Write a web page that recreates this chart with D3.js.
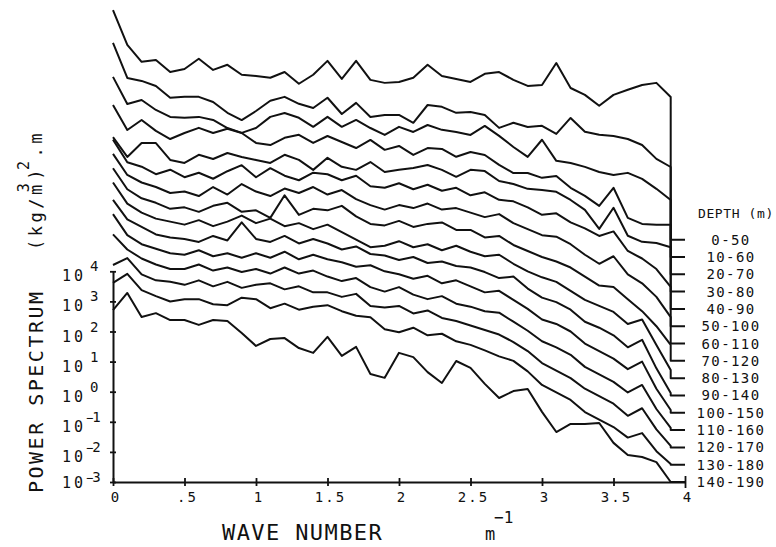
<!DOCTYPE html>
<html>
<head>
<meta charset="utf-8">
<script src="https://cdn.jsdelivr.net/npm/d3@7/dist/d3.min.js"></script>
<style>
  body { margin: 0; background: #fff; }
  text { font-family: "DejaVu Sans Mono", monospace; fill: #111; }
</style>
</head>
<body>
<div id="chart"></div>
<script>
// VARIABLES
var width = 776;
var height = 547;

// wave number (1/m) of every spectral estimate
var waveNumber = [0, 0.1, 0.2, 0.3, 0.4, 0.5, 0.6, 0.7, 0.8, 0.9,
                  1.0, 1.1, 1.2, 1.3, 1.4, 1.5, 1.6, 1.7, 1.8, 1.9,
                  2.0, 2.1, 2.2, 2.3, 2.4, 2.5, 2.6, 2.7, 2.8, 2.9,
                  3.0, 3.1, 3.2, 3.3, 3.4, 3.5, 3.6, 3.7, 3.8, 3.9];

// log10 of the power spectrum, one array per depth window
var spec0_50 = [4.63, 3.47, 2.91, 2.97, 2.57, 2.67, 3.01, 2.64, 2.81, 2.48, 2.44, 2.38, 2.57, 2.18, 2.48, 2.94, 2.34, 2.94, 2.31, 2.21, 2.24, 2.38, 2.81, 2.44, 2.34, 2.24, 2.51, 2.57, 2.31, 2.11, 2.14, 2.87, 2.04, 1.81, 1.45, 1.81, 1.98, 2.14, 2.21, 1.74];
var spec10_60 = [4.11, 2.95, 2.85, 2.68, 2.29, 2.32, 2.32, 2.15, 1.79, 1.55, 1.85, 2.19, 2.32, 2.09, 1.95, 2.29, 1.75, 2.12, 1.65, 1.72, 1.72, 1.46, 2.05, 1.99, 1.79, 1.82, 1.72, 1.29, 1.46, 1.32, 1.36, 1.09, 1.62, 1.16, 1.06, 1.02, 0.92, 0.72, 0.26, -0.01];
var spec20_70 = [3.56, 2.66, 2.79, 2.46, 2.23, 2.20, 2.23, 2.13, 1.86, 1.70, 1.86, 2.23, 2.36, 2.20, 1.90, 2.23, 1.90, 2.13, 1.86, 1.63, 1.90, 1.73, 1.96, 1.80, 1.73, 1.63, 1.93, 1.60, 1.23, 0.90, 1.47, 0.77, 0.70, 0.57, 0.40, 0.30, 0.37, 0.17, -0.16, -0.53];
var spec30_80 = [3.20, 2.37, 2.70, 2.34, 2.07, 2.27, 2.44, 2.27, 2.41, 2.27, 1.94, 1.87, 2.11, 2.21, 1.94, 2.17, 1.97, 1.77, 2.04, 1.71, 1.84, 1.54, 1.77, 1.74, 1.48, 1.64, 1.54, 1.21, 0.94, 0.94, 0.78, 0.84, 0.45, 0.18, -0.15, 0.45, -0.55, -0.75, -0.78, -0.78];
var spec40_90 = [2.71, 2.05, 2.51, 2.51, 1.95, 1.85, 2.12, 1.98, 2.18, 2.05, 1.95, 1.85, 2.12, 1.95, 1.62, 2.02, 1.72, 1.62, 1.88, 1.55, 1.62, 1.68, 1.78, 1.62, 1.39, 1.62, 1.58, 1.25, 1.15, 0.99, 0.95, 0.89, 0.62, 0.29, -0.34, 0.36, -0.57, -0.77, -0.81, -0.95];
var spec50_100 = [3.2, 2.45, 2.30, 2.05, 2.20, 1.95, 2.10, 1.90, 2.15, 2.35, 1.95, 2.25, 2.0, 1.85, 2.1, 2.05, 1.85, 2.0, 1.65, 1.6, 1.75, 1.55, 1.7, 1.5, 1.6, 1.35, 1.45, 1.2, 1.15, 0.95, 0.70, 0.75, 0.45, 0.25, 0.0, 0.15, -0.5, -0.75, -1.1, -1.69];
var spec60_110 = [3.3, 2.6, 2.35, 2.2, 2.0, 2.05, 1.9, 2.2, 1.95, 2.3, 2.05, 1.9, 2.15, 2.0, 2.2, 1.95, 2.1, 1.8, 1.6, 1.45, 1.6, 1.5, 1.65, 1.45, 1.5, 1.35, 1.2, 1.3, 1.0, 0.8, 0.6, 0.55, 0.3, -0.05, -0.35, -0.1, -0.7, -1.0, -1.45, -2.12];
var spec70_120 = [3.4, 2.7, 2.4, 2.25, 2.05, 2.1, 1.95, 2.15, 2.25, 1.95, 2.0, 1.75, 2.5, 1.85, 2.05, 2.0, 2.15, 1.8, 1.55, 1.5, 1.65, 1.45, 1.55, 1.6, 1.35, 1.35, 1.1, 1.15, 0.85, 0.65, 0.45, 0.3, 0.1, -0.2, -0.5, -0.55, -0.95, -1.35, -1.85, -2.47];
var spec80_130 = [3.5, 2.8, 2.5, 2.3, 2.2, 2.1, 2.25, 2.05, 2.2, 2.4, 2.15, 2.3, 2.05, 2.15, 1.95, 2.1, 1.85, 1.6, 1.35, 1.4, 1.55, 1.35, 1.45, 1.25, 1.4, 1.2, 1.05, 1.1, 0.8, 0.55, 0.35, 0.2, -0.1, -0.4, -0.6, -0.8, -1.2, -1.05, -1.9, -2.73];
var spec90_140 = [3.5, 2.85, 2.6, 2.35, 2.25, 2.2, 2.1, 2.3, 2.15, 2.75, 2.2, 2.1, 2.3, 2.05, 2.2, 2.05, 1.85, 1.95, 1.7, 1.65, 1.5, 1.6, 1.4, 1.45, 1.3, 1.25, 1.1, 0.9, 0.95, 0.55, 0.25, 0.1, -0.15, -0.55, -0.75, -1.0, -1.4, -1.15, -2.1, -2.92];
var spec100_150 = [3.6, 2.9, 2.6, 2.45, 2.3, 2.25, 2.4, 2.2, 2.3, 2.15, 2.3, 2.15, 2.35, 2.1, 2.25, 2.1, 2.0, 1.85, 1.9, 1.7, 1.6, 1.45, 1.55, 1.3, 1.4, 1.2, 1.0, 1.05, 0.75, 0.45, 0.1, -0.05, -0.3, -0.7, -0.95, -1.2, -1.55, -1.3, -2.2, -2.91];
var spec110_160 = [3.5, 3.0, 2.7, 2.5, 2.35, 2.35, 2.5, 2.3, 2.4, 2.25, 2.35, 2.2, 2.4, 2.2, 2.3, 2.1, 1.95, 2.05, 1.75, 1.6, 1.75, 1.5, 1.35, 1.45, 1.2, 1.1, 0.95, 0.9, 0.6, 0.3, -0.05, -0.25, -0.5, -0.9, -1.15, -1.4, -1.75, -1.5, -2.3, -2.93];
var spec120_170 = [3.06, 3.29, 2.75, 2.55, 2.5, 2.4, 2.55, 2.35, 2.5, 2.3, 2.4, 2.45, 2.25, 2.35, 2.15, 2.15, 2.0, 2.1, 1.7, 1.65, 1.7, 1.45, 1.55, 1.3, 1.2, 1.05, 0.9, 0.75, 0.5, 0.2, -0.2, -0.45, -0.7, -1.05, -1.3, -1.55, -1.95, -1.7, -2.4, -2.95];
var spec130_180 = [3.04, 3.34, 2.8, 2.6, 2.42, 2.5, 2.5, 2.33, 2.3, 2.55, 2.5, 2.2, 2.35, 2.15, 2.25, 2.3, 2.1, 1.95, 1.9, 1.5, 1.4, 1.55, 1.3, 1.35, 1.1, 0.98, 0.8, 0.6, 0.45, 0.1, -0.35, -0.6, -0.85, -1.25, -1.5, -1.75, -2.1, -1.95, -2.55, -2.98];
var spec140_190 = [2.71, 3.28, 2.48, 2.61, 2.38, 2.38, 2.22, 2.38, 2.35, 1.95, 1.52, 1.75, 1.78, 1.45, 1.29, 1.82, 1.19, 1.49, 0.59, 0.46, 1.29, 1.15, 0.65, 0.29, 1.02, 0.79, 0.26, -0.21, 0.02, 0.09, -0.67, -1.34, -1.07, -1.07, -1.04, -1.70, -2.10, -2.17, -2.34, -3.00];

var spectra = [spec0_50, spec10_60, spec20_70, spec30_80, spec40_90, spec50_100, spec60_110,
               spec70_120, spec80_130, spec90_140, spec100_150, spec110_160, spec120_170,
               spec130_180, spec140_190];
var depthLabels = ["0-50", "10-60", "20-70", "30-80", "40-90", "50-100", "60-110", "70-120",
                   "80-130", "90-140", "100-150", "110-160", "120-170", "130-180", "140-190"];

var xTicks = [0, 0.5, 1, 1.5, 2, 2.5, 3, 3.5, 4];
var xTickLabels = ["0", ".5", "1", "1.5", "2", "2.5", "3", "3.5", "4"];
var yTickExponents = [4, 3, 2, 1, 0, -1, -2, -3];

// each curve sits this many decades above the one below it
var stepDecades = 0.575;

//Create SVG element
var svg = d3.select("#chart")
      .append("svg")
      .attr("width", width)
      .attr("height", height);

var xScale = d3.scaleLinear()
      .domain([0, 4])
      .range([113, 685]);

var yScale = d3.scaleLog()
      .domain([1e-3, 1e4])
      .range([482, 271.3]);

var line = d3.line()
      .x(function(d) { return xScale(d[0]); })
      .y(function(d) { return yScale(Math.pow(10, d[1])); });

var lastK = waveNumber[waveNumber.length - 1];

// curves, each dropping at its end to its own 10^-3 level and running out to k = 4
spectra.forEach(function(s, i) {
  var shift = (spectra.length - 1 - i) * stepDecades;
  var pts = waveNumber.map(function(k, j) { return [k, s[j] + shift]; });
  pts.push([lastK, -3 + shift]);
  pts.push([4, -3 + shift]);
  svg.append("path")
     .attr("d", line(pts))
     .attr("fill", "none")
     .attr("stroke", "#111")
     .attr("stroke-width", 2)
     .attr("stroke-linejoin", "round");

  svg.append("text")
     .attr("x", 731)
     .attr("y", yScale(Math.pow(10, -3 + shift)) + 5)
     .attr("text-anchor", "middle")
     .attr("font-size", 14)
     .attr("letter-spacing", 1.4)
     .text(depthLabels[i]);
});

svg.append("text")
   .attr("x", 698)
   .attr("y", 218)
   .attr("font-size", 13)
   .attr("letter-spacing", 0.6)
   .text("DEPTH (m)");

// X axis
var xAxis = d3.axisBottom(xScale)
      .tickValues(xTicks)
      .tickSizeInner(4)
      .tickSizeOuter(0)
      .tickFormat("");
var gx = svg.append("g")
      .attr("transform", "translate(0,482)")
      .call(xAxis);
gx.select(".domain").attr("stroke", "#111").attr("stroke-width", 2);
gx.selectAll(".tick line").attr("stroke", "#111").attr("stroke-width", 1.8).attr("y1", -4);
gx.selectAll(".tick")
  .filter(function(d) { return d === 4; })
  .select("line").attr("y1", -6).attr("y2", 6);

svg.selectAll(".xlab")
   .data(xTicks)
   .enter()
   .append("text")
   .attr("class", "xlab")
   .attr("x", function(d) { return xScale(d) + 3; })
   .attr("y", 502)
   .attr("text-anchor", "middle")
   .attr("font-size", 14)
   .attr("letter-spacing", 2)
   .text(function(d, i) { return xTickLabels[i]; });

// Y axis
var yAxis = d3.axisLeft(yScale)
      .tickValues(yTickExponents.map(function(e) { return Math.pow(10, e); }))
      .tickSizeInner(3)
      .tickSizeOuter(0)
      .tickFormat("");
var gy = svg.append("g")
      .attr("transform", "translate(113,0)")
      .call(yAxis);
gy.select(".domain").attr("stroke", "#111").attr("stroke-width", 2);
gy.selectAll(".tick line").attr("stroke", "#111").attr("stroke-width", 1.8).attr("x2", 3).attr("x1", -3);

// "10" with its exponent as a raised tspan
yTickExponents.forEach(function(e) {
  var ty = yScale(Math.pow(10, e));
  var baseY = Math.min(ty + 10, 488);
  var t = svg.append("text")
     .attr("x", 62)
     .attr("y", baseY)
     .attr("font-size", 15)
     .attr("letter-spacing", 3);
  t.append("tspan").text("10");
  if (e < 0) {
    t.append("tspan").attr("dy", ty - baseY).attr("font-size", 12).attr("letter-spacing", 0).text("\u2212");
    t.append("tspan").attr("dx", -1).attr("font-size", 14).attr("letter-spacing", 0).text(Math.abs(e));
  } else {
    t.append("tspan").attr("dx", 4).attr("dy", ty - baseY).attr("font-size", 14).attr("letter-spacing", 0).text(e);
  }
});

// axis titles
svg.append("text")
   .attr("transform", "translate(43,493) rotate(-90)")
   .attr("font-size", 20)
   .attr("letter-spacing", 2.5)
   .text("POWER SPECTRUM");

var unit = svg.append("text")
   .attr("transform", "translate(42,250) rotate(-90)")
   .attr("font-size", 17)
   .attr("letter-spacing", 3.5);
unit.append("tspan").text("(kg/m");
unit.append("tspan").attr("dx", -11).attr("dy", -13).attr("font-size", 15).text("3");
unit.append("tspan").attr("dy", 13).text(")");
unit.append("tspan").attr("dx", -4).attr("dy", -13).attr("font-size", 15).text("2");
unit.append("tspan").attr("dy", 13).text(".m");

svg.append("text")
   .attr("x", 222)
   .attr("y", 540)
   .attr("font-size", 22)
   .attr("letter-spacing", 1.4)
   .text("WAVE NUMBER");

var per = svg.append("text").attr("x", 485).attr("y", 540).attr("font-size", 17);
per.append("tspan").text("m");
per.append("tspan").attr("x", 494).attr("dy", -17).attr("font-size", 16).text("\u22121");
</script>
</body>
</html>
